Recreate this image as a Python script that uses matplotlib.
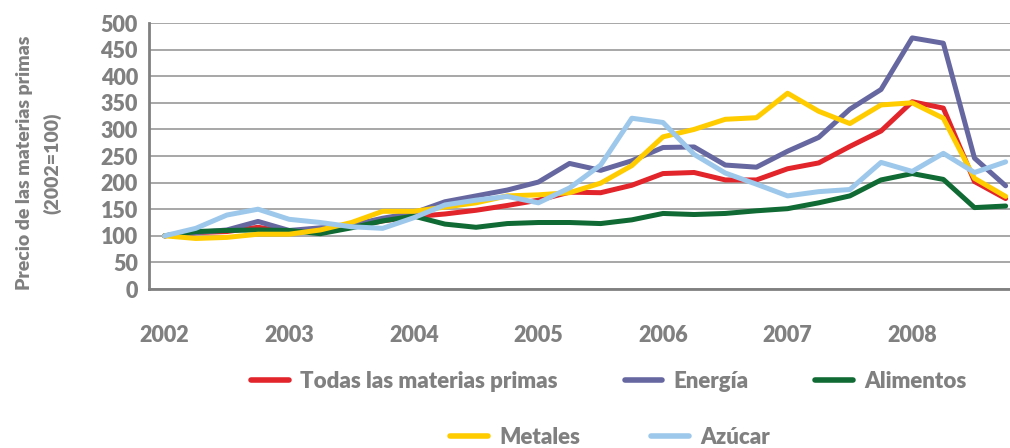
import matplotlib
matplotlib.use("Agg")
import matplotlib.pyplot as plt
from matplotlib.lines import Line2D

plt.rcParams["font.family"] = ["Lato"]
plt.rcParams["font.weight"] = "heavy"

# Quarterly index values, 2002 Q1 .. 2008 Q4 (2002=100)
quarters = list(range(28))
years = ["2002", "2003", "2004", "2005", "2006", "2007", "2008"]

todas = [100, 106, 108, 116, 107, 110, 117, 128, 136, 141, 148, 157, 167, 182,
         181, 195, 217, 219, 205, 205, 226, 237, 268, 297, 352, 340, 202, 170]
energia = [100, 106, 111, 127, 110, 115, 120, 133, 143, 164, 175, 186, 201, 236,
           223, 241, 266, 267, 233, 229, 259, 285, 338, 375, 472, 462, 246, 194]
alimentos = [100, 108, 110, 111, 110, 104, 115, 128, 137, 122, 116, 123, 125, 125,
             123, 130, 142, 140, 142, 147, 151, 162, 175, 205, 217, 206, 153, 156]
metales = [100, 95, 97, 103, 103, 111, 125, 146, 146, 154, 162, 175, 177, 181,
           199, 232, 286, 300, 319, 322, 368, 334, 311, 346, 350, 321, 208, 174]
azucar = [100, 114, 139, 150, 131, 125, 117, 114, 134, 158, 167, 174, 162, 190,
          233, 321, 313, 253, 218, 197, 175, 183, 187, 238, 221, 255, 219, 239]

names = ["Todas las materias primas", "Energía", "Alimentos", "Metales", "Azúcar"]
colors = ["#E2242B", "#6667A0", "#0F6A33", "#FFCC00", "#9DC8EB"]

grey = "#808080"

fig = plt.figure(figsize=(10.1, 4.48), dpi=100)
ax = fig.add_axes([149 / 1010, 1 - 289 / 448, 1 - 149 / 1010, 266 / 448])

series = [todas, energia, alimentos, metales, azucar]
order = [2, 0, 1, 3, 4]
for k in order:
    ax.plot(quarters, series[k], color=colors[k], lw=3.6,
            solid_joinstyle="round", solid_capstyle="round", zorder=3 + k)

ax.set_ylim(0, 500)
ax.set_yticks(range(0, 501, 50))
ax.set_xlim(-0.5, 27.14)
ax.set_xticks([q for q in quarters if q % 4 == 0])
ax.set_xticklabels(years)

ax.grid(axis="y", color="#A0A0A0", lw=1.3)
ax.set_axisbelow(True)
for s in ["top", "right"]:
    ax.spines[s].set_visible(False)
for s in ["left", "bottom"]:
    ax.spines[s].set_color(grey)
    ax.spines[s].set_linewidth(2)

ax.tick_params(axis="both", length=0, colors=grey, labelsize=15.5)
ax.tick_params(axis="y", pad=8)
ax.tick_params(axis="x", pad=26)

ylab_font = dict(rotation=90, ha="center", va="center", color=grey,
                 fontsize=14, fontweight="heavy")
fig.text(25 / 1010, 1 - 163 / 448, "Precio de las materias primas", **ylab_font)
fig.text(52 / 1010, 1 - 163 / 448, "(2002=100)", **ylab_font)

handles = [Line2D([], [], color=c, lw=4, solid_capstyle="round") for c in colors]
leg_font = {"weight": "heavy", "size": 16}

leg1 = fig.legend(handles[:3], names[:3], loc="center", ncol=3,
                  bbox_to_anchor=(609 / 1010, 1 - 381 / 448), frameon=False,
                  prop=leg_font, handlelength=1.7, handletextpad=0.5,
                  columnspacing=3.0)
leg2 = fig.legend(handles[3:], names[3:], loc="center", ncol=2,
                  bbox_to_anchor=(610 / 1010, 1 - 437 / 448), frameon=False,
                  prop=leg_font, handlelength=1.7, handletextpad=0.5,
                  columnspacing=3.2)
for leg in (leg1, leg2):
    for t in leg.get_texts():
        t.set_color(grey)

fig.savefig("out.png", dpi=100)
